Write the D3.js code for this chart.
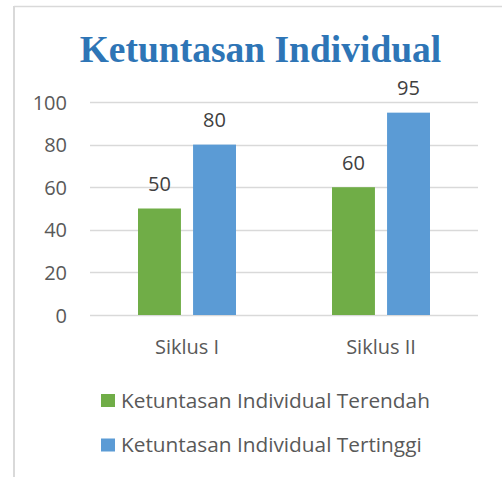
<!DOCTYPE html>
<html>
<head>
<meta charset="utf-8">
<script src="https://cdn.jsdelivr.net/npm/d3@7"></script>
<style>
  html, body { margin: 0; padding: 0; background: #fff; }
  svg { display: block; }
</style>
</head>
<body>
<svg id="chart"></svg>
<script>
const title = 'Ketuntasan Individual';
const categories = ['Siklus I', 'Siklus II'];
const seriesNames = ['Ketuntasan Individual Terendah', 'Ketuntasan Individual Tertinggi'];
const terendah = [50, 60];
const tertinggi = [80, 95];
const yTicks = [0, 20, 40, 60, 80, 100];
const colors = ['#70AD47', '#5B9BD5'];

const width = 502, height = 477;
const svg = d3.select('#chart').attr('width', width).attr('height', height);

// chart frame (only top and left edges are visible in the crop)
svg.append('line').attr('x1', 14).attr('x2', width).attr('y1', 6.5).attr('y2', 6.5)
  .attr('stroke', '#d9d9d9').attr('stroke-width', 1.5);
svg.append('line').attr('x1', 14).attr('x2', 14).attr('y1', 6).attr('y2', height)
  .attr('stroke', '#d9d9d9').attr('stroke-width', 2);

svg.append('text')
  .attr('x', 260.5).attr('y', 61.5)
  .attr('text-anchor', 'middle')
  .style('font-family', '"Liberation Serif", "Times New Roman", serif')
  .style('font-weight', 'bold')
  .style('font-size', '37.5px')
  .style('fill', '#2E75B6')
  .text(title);

const x = d3.scaleBand().domain(categories).range([90, 478]);
const x1 = d3.scaleBand().domain([0, 1]).range([0, 98]).paddingInner(0.22);
const y = d3.scaleLinear().domain([0, 100]).range([315, 102]);

const font = '"Open Sans", sans-serif';
const fs = '20px';

// gridlines
svg.append('g').selectAll('line').data(yTicks).join('line')
  .attr('x1', 90).attr('x2', 478)
  .attr('y1', d => Math.round(y(d)) + 0.5).attr('y2', d => Math.round(y(d)) + 0.5)
  .attr('stroke', '#d9d9d9').attr('stroke-width', 1.5);

// y axis labels
const yAxis = d3.axisLeft(y).tickValues(yTicks).tickSize(0).tickPadding(0);
const gy = svg.append('g').attr('transform', 'translate(67,0)').call(yAxis);
gy.select('.domain').remove();
gy.selectAll('text').attr('dy', '0.35em')
  .style('font-family', font).style('font-size', fs).style('fill', '#595959');

// x axis labels
const xAxis = d3.axisBottom(x).tickSize(0).tickPadding(0);
const gx = svg.append('g').attr('transform', 'translate(0,354)').call(xAxis);
gx.select('.domain').remove();
gx.selectAll('text').attr('y', 0).attr('dy', 0)
  .style('font-family', font).style('font-size', fs).style('fill', '#595959');

const data = categories.map((c, i) => ({ cat: c, vals: [terendah[i], tertinggi[i]] }));
const groups = svg.append('g').selectAll('g').data(data).join('g')
  .attr('transform', d => `translate(${x(d.cat) + (x.bandwidth() - 98) / 2},0)`);

groups.selectAll('rect').data(d => d.vals).join('rect')
  .attr('x', (d, i) => x1(i))
  .attr('width', x1.bandwidth())
  .attr('y', d => y(d))
  .attr('height', d => y(0) - y(d))
  .attr('fill', (d, i) => colors[i]);

groups.selectAll('text').data(d => d.vals).join('text')
  .attr('x', (d, i) => x1(i) + x1.bandwidth() / 2)
  .attr('y', d => y(d) - 17.5)
  .attr('text-anchor', 'middle')
  .style('font-family', font).style('font-size', fs).style('fill', '#404040')
  .text(d => d);

// legend
const legend = svg.append('g').selectAll('g').data(seriesNames).join('g')
  .attr('transform', (d, i) => `translate(101,${394 + i * 44.5})`);
legend.append('rect').attr('width', 14).attr('height', 13).attr('fill', (d, i) => colors[i]);
legend.append('text').attr('x', 20).attr('y', 13.5)
  .style('font-family', font).style('font-size', '20.8px').style('fill', '#595959')
  .text(d => d);
</script>
</body>
</html>
